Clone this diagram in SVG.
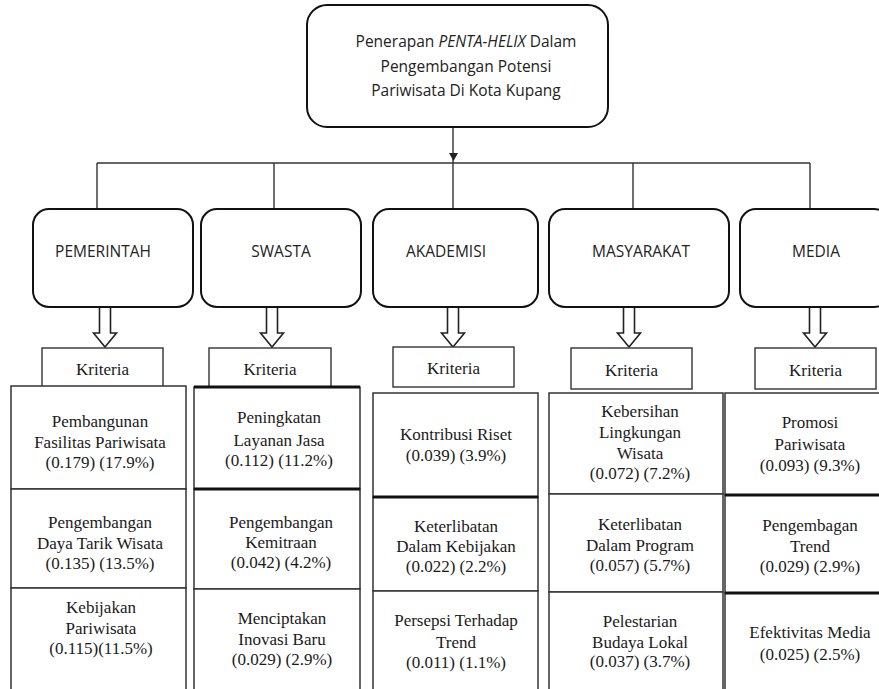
<svg xmlns="http://www.w3.org/2000/svg" width="879" height="689" viewBox="0 0 879 689">
<style>
.bg{fill:#fff}
.rbox{fill:#fff;stroke:#111;stroke-width:2}
.conn{stroke:#333;stroke-width:1.4;fill:none}
.barrow{fill:#fff;stroke:#222;stroke-width:1.6}
.kbox{fill:#fff;stroke:#333;stroke-width:1.4}
.cell{fill:#fff;stroke:#333;stroke-width:1.5}
.thick{stroke:#111;stroke-width:3}
.sans{font-family:"Open Sans","Liberation Sans",sans-serif;font-size:15.5px;fill:#222;text-anchor:middle}
.serif{font-family:"Liberation Serif","Times New Roman",serif;font-size:17px;fill:#1a1a1a;text-anchor:middle}
</style>
<defs>
<path id="ba" d="M-5.5,0 V26 H-11.5 L0,40 L11.5,26 H5.5 V0 Z" class="barrow"/>
</defs>
<rect class="bg" width="879" height="689"/>

<g id="connectors">
<line class="conn" x1="453" y1="127" x2="453" y2="209"/>
<polygon points="449,153 458,153 453.5,161" fill="#222"/>
<line class="conn" x1="97" y1="163" x2="810" y2="163"/>
<line class="conn" x1="97" y1="163" x2="97" y2="209"/>
<line class="conn" x1="274" y1="163" x2="274" y2="209"/>
<line class="conn" x1="633" y1="163" x2="633" y2="209"/>
<line class="conn" x1="810" y1="163" x2="810" y2="209"/>
<use href="#ba" x="105" y="307"/>
<use href="#ba" x="272" y="307"/>
<use href="#ba" x="453" y="307"/>
<use href="#ba" x="629" y="307"/>
<use href="#ba" x="815" y="307"/>
</g>

<g id="root">
<rect class="rbox" x="307" y="5" width="301" height="122" rx="20"/>
<text class="sans" x="466" y="47">Penerapan <tspan font-style="italic">PENTA-HELIX</tspan> Dalam</text>
<text class="sans" x="466" y="72">Pengembangan Potensi</text>
<text class="sans" x="466" y="96">Pariwisata Di Kota Kupang</text>
</g>

<g id="pemerintah">
<rect class="rbox" x="33" y="209" width="160" height="98" rx="16"/>
<text class="sans" x="103" y="257">PEMERINTAH</text>
</g>
<g id="swasta">
<rect class="rbox" x="201" y="209" width="160" height="98" rx="16"/>
<text class="sans" x="281" y="257">SWASTA</text>
</g>
<g id="akademisi">
<rect class="rbox" x="373" y="209" width="165" height="98" rx="16"/>
<text class="sans" x="446" y="257">AKADEMISI</text>
</g>
<g id="masyarakat">
<rect class="rbox" x="549" y="209" width="180" height="98" rx="16"/>
<text class="sans" x="641" y="257">MASYARAKAT</text>
</g>
<g id="media">
<rect class="rbox" x="740" y="209" width="150" height="98" rx="16"/>
<text class="sans" x="816" y="257">MEDIA</text>
</g>

<g id="kriteria-pemerintah">
<rect class="kbox" x="42" y="348" width="121" height="39"/>
<text class="serif" x="102.5" y="375">Kriteria</text>
</g>
<g id="kriteria-swasta">
<rect class="kbox" x="209" y="348" width="122" height="39"/>
<text class="serif" x="270" y="375">Kriteria</text>
</g>
<g id="kriteria-akademisi">
<rect class="kbox" x="393" y="347" width="121" height="40"/>
<text class="serif" x="453.5" y="374">Kriteria</text>
</g>
<g id="kriteria-masyarakat">
<rect class="kbox" x="571" y="348" width="121" height="41"/>
<text class="serif" x="631.5" y="376">Kriteria</text>
</g>
<g id="kriteria-media">
<rect class="kbox" x="755" y="348" width="121" height="41"/>
<text class="serif" x="815.5" y="376">Kriteria</text>
</g>

<g id="col-pemerintah">
<rect class="cell" x="11" y="386" width="175" height="103"/>
<rect class="cell" x="11" y="489" width="175" height="99"/>
<rect class="cell" x="11" y="588" width="175" height="110"/>
<text class="serif" x="100" y="427">Pembangunan</text>
<text class="serif" x="100" y="448">Fasilitas Pariwisata</text>
<text class="serif" x="100" y="468">(0.179) (17.9%)</text>
<text class="serif" x="100" y="528">Pengembangan</text>
<text class="serif" x="100" y="549">Daya Tarik Wisata</text>
<text class="serif" x="100" y="569">(0.135) (13.5%)</text>
<text class="serif" x="101" y="613">Kebijakan</text>
<text class="serif" x="101" y="634">Pariwisata</text>
<text class="serif" x="101" y="654">(0.115)(11.5%)</text>
</g>

<g id="col-swasta">
<rect class="cell" x="194" y="387" width="166" height="102"/>
<rect class="cell" x="194" y="489" width="166" height="100"/>
<rect class="cell" x="194" y="589" width="166" height="110"/>
<line class="thick" x1="194" y1="387" x2="360" y2="387"/>
<line class="thick" x1="194" y1="489" x2="360" y2="489"/>
<text class="serif" x="279" y="423">Peningkatan</text>
<text class="serif" x="279" y="446">Layanan Jasa</text>
<text class="serif" x="279" y="466">(0.112) (11.2%)</text>
<text class="serif" x="281" y="528">Pengembangan</text>
<text class="serif" x="281" y="548">Kemitraan</text>
<text class="serif" x="281" y="568">(0.042) (4.2%)</text>
<text class="serif" x="282" y="624">Menciptakan</text>
<text class="serif" x="282" y="645">Inovasi Baru</text>
<text class="serif" x="282" y="665">(0.029) (2.9%)</text>
</g>

<g id="col-akademisi">
<rect class="cell" x="373" y="393" width="165" height="104"/>
<rect class="cell" x="373" y="497" width="165" height="94"/>
<rect class="cell" x="373" y="591" width="165" height="108"/>
<line class="thick" x1="373" y1="497" x2="538" y2="497"/>
<text class="serif" x="456" y="440">Kontribusi Riset</text>
<text class="serif" x="456" y="461">(0.039) (3.9%)</text>
<text class="serif" x="456" y="532">Keterlibatan</text>
<text class="serif" x="456" y="552">Dalam Kebijakan</text>
<text class="serif" x="456" y="572">(0.022) (2.2%)</text>
<text class="serif" x="456" y="626">Persepsi Terhadap</text>
<text class="serif" x="456" y="648">Trend</text>
<text class="serif" x="456" y="668">(0.011) (1.1%)</text>
</g>

<g id="col-masyarakat">
<rect class="cell" x="549" y="393" width="174" height="101"/>
<rect class="cell" x="549" y="494" width="174" height="98"/>
<rect class="cell" x="549" y="592" width="174" height="107"/>
<text class="serif" x="640" y="417">Kebersihan</text>
<text class="serif" x="640" y="438">Lingkungan</text>
<text class="serif" x="640" y="459">Wisata</text>
<text class="serif" x="640" y="479">(0.072) (7.2%)</text>
<text class="serif" x="640" y="530">Keterlibatan</text>
<text class="serif" x="640" y="551">Dalam Program</text>
<text class="serif" x="640" y="571">(0.057) (5.7%)</text>
<text class="serif" x="640" y="627">Pelestarian</text>
<text class="serif" x="640" y="648">Budaya Lokal</text>
<text class="serif" x="640" y="667">(0.037) (3.7%)</text>
</g>

<g id="col-media">
<rect class="cell" x="725" y="393" width="160" height="102"/>
<rect class="cell" x="725" y="495" width="160" height="98"/>
<rect class="cell" x="725" y="593" width="160" height="106"/>
<line class="thick" x1="725" y1="495" x2="879" y2="495"/>
<line class="thick" x1="725" y1="593" x2="879" y2="593"/>
<text class="serif" x="810" y="428">Promosi</text>
<text class="serif" x="810" y="450">Pariwisata</text>
<text class="serif" x="810" y="471">(0.093) (9.3%)</text>
<text class="serif" x="810" y="531">Pengembagan</text>
<text class="serif" x="810" y="552">Trend</text>
<text class="serif" x="810" y="572">(0.029) (2.9%)</text>
<text class="serif" x="810" y="638">Efektivitas Media</text>
<text class="serif" x="810" y="660">(0.025) (2.5%)</text>
</g>
</svg>
